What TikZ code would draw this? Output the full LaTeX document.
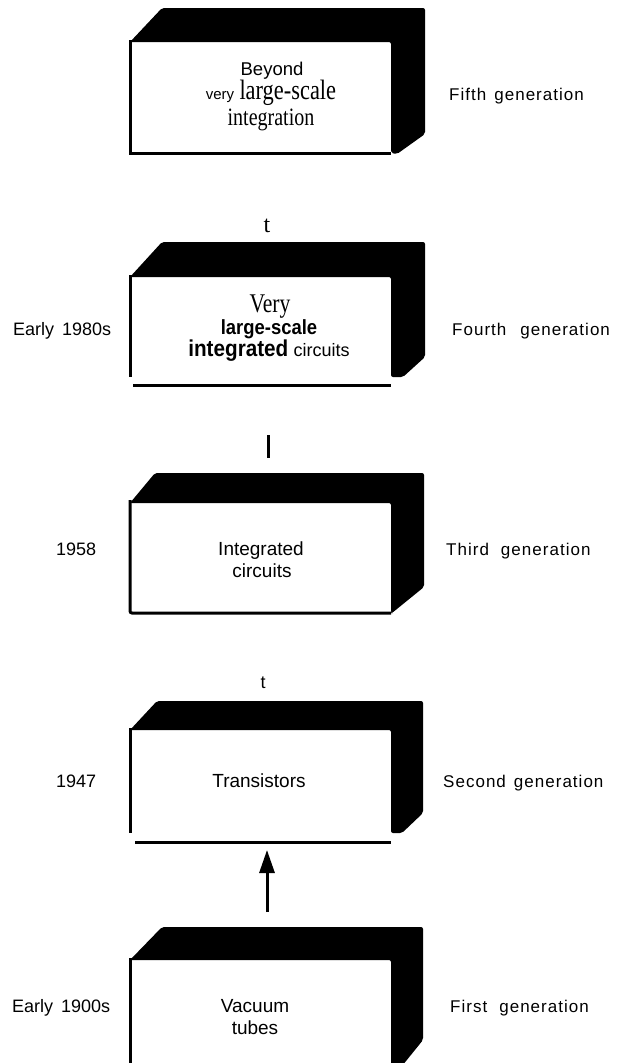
\documentclass[tikz,border=0pt]{standalone}
\usepackage{fontspec}
\setmainfont{Liberation Sans}
\newfontfamily\serifn{Liberation Serif}
\newfontfamily\serifcond[FakeStretch=0.8]{Liberation Serif}
\newfontfamily\boldnarrow[FakeStretch=0.9]{Liberation Sans Bold}
\newfontfamily\spacedsans[LetterSpace=6]{Liberation Sans}
\usetikzlibrary{calc,arrows.meta}
\newcommand\myfs[1]{\fontsize{#1}{#1}\selectfont}
\begin{document}
\begin{tikzpicture}[x=1pt,y=-1pt,
  face/.style={inner sep=0pt,outer sep=0pt,minimum width=261pt},
  side/.style={fill=black,rounded corners=2pt},
  edge/.style={line width=3pt},
  txt/.style={inner sep=0pt,anchor=base,font=\myfs{19}},
  lab/.style={inner sep=0pt,anchor=base west,font=\spacedsans\myfs{17}},
  yearlab/.style={inner sep=0pt,anchor=base west,font=\myfs{18}}]
\fill[white] (0,0) rectangle (616,1063);
\clip (0,0) rectangle (616,1063);
\useasboundingbox (0,0) rectangle (616,1063);

% ---------- Box 1 ----------
\node[face,minimum height=111pt] (b1) at (260.5,97.5) {};
\fill[side] (b1.north west) -- ($(b1.north west)+(32,-34)$) -- ($(b1.north east)+(34,-34)$)
  -- ($(b1.south east)+(34,-19)$) -- ($(b1.south east)+(6,1)$) -- (b1.south east) -- (b1.north east) -- cycle;
\draw[edge] ($(b1.north west)+(0,-2)$) -- (b1.south west) -- (b1.south east);
\node[txt,font=\myfs{18.5}] (t1a) at (272,75) {Beyond};
\node[txt] (t1b) at (271,99) {{\myfs{15}very} {\serifcond\myfs{28}large-scale}};
\node[txt] (t1c) at (271,125) {\serifcond\myfs{25}integration};
\node[lab] (g5) at (449,100) {Fifth\hspace{8pt}generation};

% mark
\node[inner sep=0pt,anchor=base] (m1) at (267,232) {\serifn\myfs{24}t};

% ---------- Box 2 ----------
\node[face,minimum height=100pt] (b2) at (260.5,327) {};
\fill[side] (b2.north west) -- ($(b2.north west)+(32,-35)$) -- ($(b2.north east)+(34,-35)$)
  -- ($(b2.south east)+(34,-20)$) -- ($(b2.south east)+(12,0)$) -- (b2.south east) -- (b2.north east) -- cycle;
\draw[edge] ($(b2.north west)+(0,-2)$) -- (b2.south west);
\draw[edge] ($(b2.south west)+(3,8)$) -- ($(b2.south east)+(0,8)$);
\node[txt] (t2a) at (270,312) {\serifcond\myfs{27}Very};
\node[txt] (t2b) at (269,334) {\boldnarrow\myfs{20.5}large-scale};
\node[txt] (t2c) at (269,356) {{\boldnarrow\myfs{23}integrated} {\myfs{18}circuits}};
\node[yearlab] (d4) at (13,335) {Early\hspace{8pt}1980s};
\node[lab] (g4) at (452,335) {Fourth\hspace{14pt}generation};

% mark
\draw[line width=3pt] (268,435) -- (268,458);

% ---------- Box 3 ----------
\node[face,minimum height=110pt] (b3) at (260.5,558) {};
\fill[side] (b3.north west) -- ($(b3.north west)+(25,-30)$) -- ($(b3.north east)+(33,-30)$)
  -- ($(b3.south east)+(33,-26)$) -- ($(b3.south east)+(1,0)$) -- (b3.south east) -- (b3.north east) -- cycle;
\draw[edge,rounded corners=2pt] ($(b3.north west)+(0,-3)$) -- (b3.south west) -- (b3.south east);
\node[txt] (t3a) at (261,555) {Integrated};
\node[txt] (t3b) at (262,577) {circuits};
\node[yearlab] (d3) at (56,555) {1958};
\node[lab] (g3) at (446,555) {Third\hspace{12pt}generation};

% mark
\node[inner sep=0pt,anchor=base] (m2) at (263,688) {\myfs{18}t};

% ---------- Box 4 ----------
\node[face,minimum height=103pt] (b4) at (260.5,781.5) {};
\fill[side] (b4.north west) -- ($(b4.north west)+(27,-29)$) -- ($(b4.north east)+(32,-29)$)
  -- ($(b4.south east)+(32,-20)$) -- ($(b4.south east)+(11,0)$) -- (b4.south east) -- (b4.north east) -- cycle;
\draw[edge] ($(b4.north west)+(0,-2)$) -- (b4.south west);
\draw[edge] ($(b4.south west)+(5,9)$) -- ($(b4.south east)+(0,9)$);
\node[txt] (t4a) at (259,787) {Transistors};
\node[yearlab] (d2) at (56,787) {1947};
\node[lab] (g2) at (443,787) {Second\hspace{8pt}generation};

% ---------- Box 5 ----------
\node[face,minimum height=106pt] (b5) at (260.5,1013) {};
\fill[side] (b5.north west) -- ($(b5.north west)+(32,-33)$) -- ($(b5.north east)+(32,-33)$)
  -- ($(b5.south east)+(32,-26)$) -- ($(b5.south east)+(11,0)$) -- (b5.south east) -- (b5.north east) -- cycle;
\draw[edge] ($(b5.north west)+(0,-2)$) -- (b5.south west);
\node[txt] (t5a) at (255,1012) {Vacuum};
\node[txt] (t5b) at (255,1034) {tubes};
\node[yearlab] (d1) at (12,1012) {Early\hspace{8pt}1900s};
\node[lab] (g1) at (450,1012) {First\hspace{12pt}generation};

% arrow
\draw[line width=3pt,-{Triangle[length=23pt,width=15pt]}]
  ($(b5.north)+(6.5,-48)$) -- ($(b4.south)+(6.5,17)$);
\end{tikzpicture}
\end{document}
